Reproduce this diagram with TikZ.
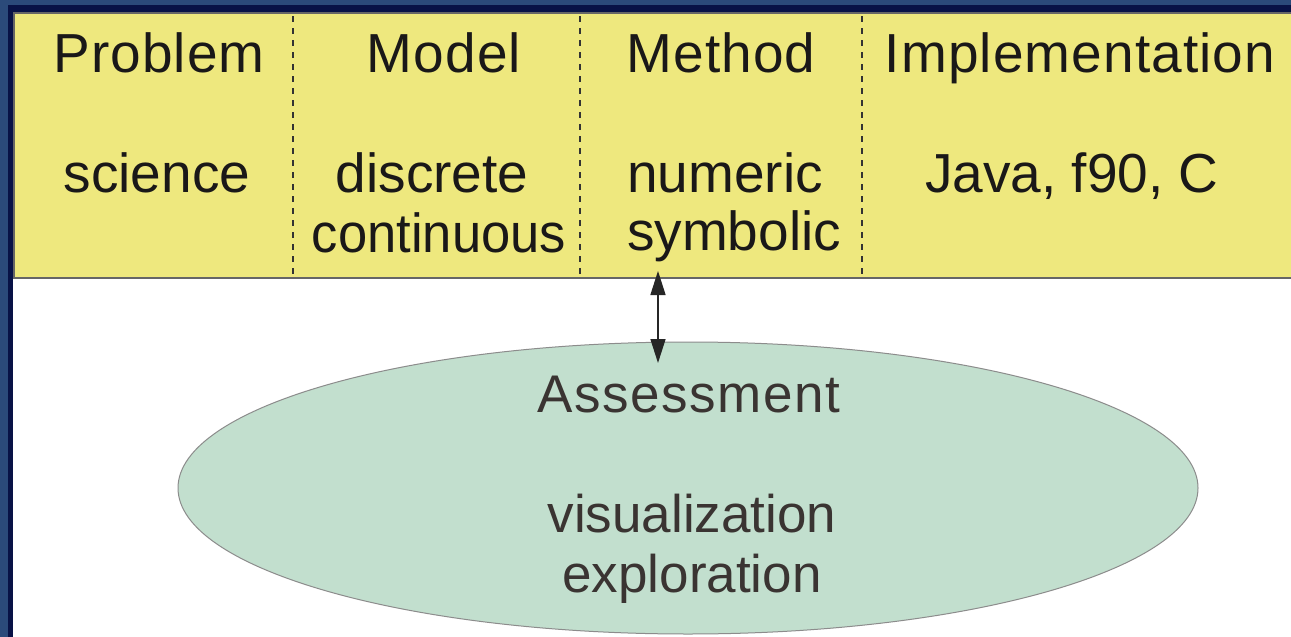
\documentclass[tikz,border=0pt]{standalone}
\usepackage{fontspec}
\setmainfont{Liberation Sans}
\newfontfamily\hdrfont[LetterSpace=2]{Liberation Sans}
\newfontfamily\assfont[LetterSpace=3]{Liberation Sans}
\usetikzlibrary{shapes.geometric,arrows.meta}
\definecolor{frameblue}{RGB}{43,74,122}
\definecolor{framenavy}{RGB}{8,18,70}
\definecolor{hdryellow}{RGB}{238,232,126}
\definecolor{ellgreen}{RGB}{194,223,206}
\definecolor{txt}{RGB}{26,24,24}
\definecolor{elltxt}{RGB}{58,52,50}
\tikzset{
  lbl/.style={anchor=base,inner sep=0pt,text=txt,font=\fontsize{55}{66}\selectfont},
  hdr/.style={lbl,font=\hdrfont\fontsize{55}{66}\selectfont},
  elbl/.style={anchor=base,inner sep=0pt,text=elltxt,font=\fontsize{53}{64}\selectfont},
  sep/.style={line width=2pt,dash pattern=on 6pt off 6pt,color=black!80},
  conn/.style={line width=1.5pt,color=black!85,{Triangle[length=24pt,width=15pt]}-{Triangle[length=24pt,width=15pt]}}
}
\begin{document}
\begin{tikzpicture}[x=1pt,y=-1pt]
\useasboundingbox (0,0) rectangle (1291,637);
\fill[frameblue] (0,0) rectangle (1291,637);
\fill[framenavy] (8,5) rectangle (1291,637);
\fill[white] (13,12) rectangle (1291,637);
\draw[fill=hdryellow,draw=black!60,line width=2pt] (14,13) rectangle (1300,278);
\draw[sep] (293,16) -- (293,277);
\draw[sep] (580,16) -- (580,277);
\draw[sep] (862,16) -- (862,277);
\node[ellipse,draw=black!45,line width=1pt,fill=ellgreen,minimum width=1020pt,minimum height=292pt,inner sep=0pt] (assess) at (688,488) {};
\node[hdr] (problem) at (159,72) {Problem};
\node[hdr] (model) at (444,72) {Model};
\node[hdr] (method) at (721,72) {Method};
\node[hdr] (impl) at (1080,72) {Implementation};
\node[lbl] (science) at (157,192) {science};
\node[lbl] (discrete) at (432,192) {discrete};
\node[lbl,xscale=0.955] (continuous) at (439,252) {continuous};
\node[lbl] (numeric) at (725,192) {numeric};
\node[lbl] (symbolic) at (734,250) {symbolic};
\node[lbl] (java) at (1072,192) {Java, f90, C};
\node[elbl,font=\assfont\fontsize{53}{64}\selectfont] (assesst) at (689,412) {Assessment};
\node[elbl] (visual) at (692,532) {visualization};
\node[elbl] (explor) at (692,592) {exploration};
\coordinate (atop) at (658,271);
\coordinate (abot) at (658,363);
\draw[conn] (atop) -- (abot);
\end{tikzpicture}
\end{document}
